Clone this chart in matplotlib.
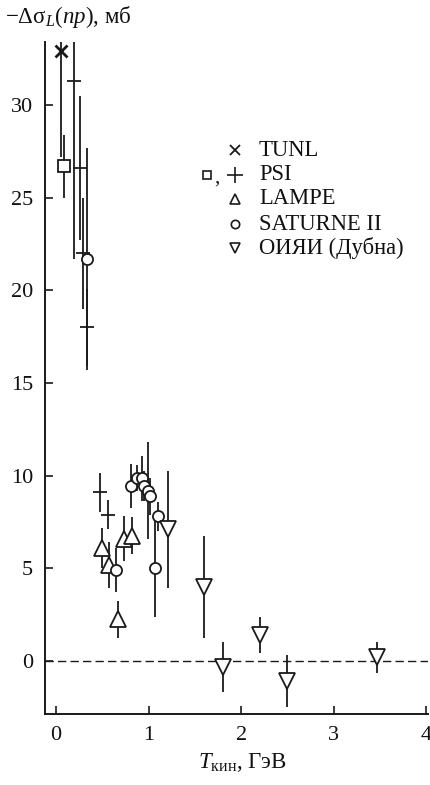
import matplotlib
matplotlib.use("Agg")
import matplotlib.pyplot as plt

plt.rcParams['font.family'] = ['Liberation Serif', 'DejaVu Serif']
plt.rcParams['mathtext.fontset'] = 'custom'
plt.rcParams['mathtext.rm'] = 'Liberation Serif'
plt.rcParams['mathtext.it'] = 'Liberation Serif:italic'

# TUNL (x)
tunl_x = [0.05]
tunl_y = [32.9]
tunl_e = [5.7]
# PSI squares
psi_sq_x = [0.08]
psi_sq_y = [26.7]
psi_sq_e = [1.7]
# PSI crosses
psi_cr_x = [0.19, 0.26, 0.29, 0.33, 0.47, 0.56]
psi_cr_y = [31.3, 26.6, 22.0, 18.0, 9.1, 7.9]
psi_cr_e = [9.6, 3.9, 3.0, 2.1, 1.05, 0.8]
# LAMPF triangles
lampf_x = [0.50, 0.57, 0.67, 0.73, 0.82]
lampf_y = [6.1, 5.2, 2.25, 6.6, 6.75]
lampf_e = [1.1, 1.25, 1.0, 1.2, 1.0]
# SATURNE II circles
sat_x = [0.33, 0.65, 0.81, 0.87, 0.93, 0.95, 0.99, 1.01, 1.07, 1.10]
sat_y = [21.7, 4.9, 9.45, 9.9, 9.85, 9.45, 9.2, 8.9, 5.0, 7.8]
sat_e = [6.0, 1.2, 1.2, 0.7, 1.2, 0.8, 2.6, 1.0, 2.6, 0.8]
# JINR (Dubna) inverted triangles
jinr_x = [1.21, 1.60, 1.80, 2.20, 2.50, 3.47]
jinr_y = [7.1, 4.0, -0.3, 1.4, -1.1, 0.2]
jinr_e = [3.15, 2.75, 1.35, 0.95, 1.4, 0.85]

legend_labels = ['TUNL', 'PSI', 'LAMPE', 'SATURNE II', 'ОИЯИ (Дубна)']

fig = plt.figure(figsize=(4.31, 7.85), dpi=100)
ax = fig.add_axes([0.1044, 0.0904, 0.889, 0.856])

ec = '#1a1a1a'
lw = 1.3

ax.axhline(0, color=ec, lw=1.0, ls=(0, (6, 3)), zorder=1)

ax.errorbar(tunl_x, tunl_y, yerr=tunl_e, fmt='x', ms=9, mew=2.0, color=ec, elinewidth=lw, zorder=3)
ax.errorbar(psi_cr_x, psi_cr_y, yerr=psi_cr_e, fmt='_', ms=10, mew=1.3, color=ec, elinewidth=lw, zorder=3)
ax.errorbar(psi_sq_x, psi_sq_y, yerr=psi_sq_e, fmt='s', ms=8, mfc='white', mec=ec, mew=1.3, color=ec, elinewidth=lw, zorder=4)
ax.errorbar(lampf_x, lampf_y, yerr=lampf_e, fmt='^', ms=11, mfc='white', mec=ec, mew=1.3, color=ec, elinewidth=lw, zorder=4)
ax.errorbar(sat_x, sat_y, yerr=sat_e, fmt='o', ms=8, mfc='white', mec=ec, mew=1.3, color=ec, elinewidth=lw, zorder=4)
ax.errorbar(jinr_x, jinr_y, yerr=jinr_e, fmt='v', ms=12, mfc='white', mec=ec, mew=1.3, color=ec, elinewidth=lw, zorder=4)

ax.set_xlim(-0.12, 4.02)
ax.set_ylim(-2.86, 33.4)
ax.set_xticks([0, 1, 2, 3, 4])
ax.set_yticks([0, 5, 10, 15, 20, 25, 30])
ax.tick_params(direction='in', length=6, width=1.2, labelsize=16, color=ec, labelcolor='#111111', pad=8.5)
ax.spines['top'].set_visible(False)
ax.spines['right'].set_visible(False)
for s in ('left', 'bottom'):
    ax.spines[s].set_linewidth(1.4)
    ax.spines[s].set_color(ec)

# manual legend
rows_y = [150, 175, 199, 224, 248]
H = 785.0
W = 431.0
mk_x = 235 / W
txt_x = 259 / W
def fy(py):
    return 1 - py / H
fig.add_artist(plt.Line2D([mk_x], [fy(rows_y[0])], marker='x', ms=7, mew=1.3, color=ec, transform=fig.transFigure))
fig.add_artist(plt.Line2D([207 / W], [fy(rows_y[1])], marker='s', ms=6, mfc='white', mew=1.2, mec=ec, color=ec, transform=fig.transFigure))
fig.text(217 / W, fy(rows_y[1]) - 0.004, ',', fontsize=15, ha='center', va='center', color=ec)
fig.add_artist(plt.Line2D([mk_x], [fy(rows_y[1])], marker='+', ms=11, mew=1.2, color=ec, transform=fig.transFigure))
fig.add_artist(plt.Line2D([mk_x], [fy(rows_y[2])], marker='^', ms=7, mfc='white', mew=1.2, mec=ec, color=ec, transform=fig.transFigure))
fig.add_artist(plt.Line2D([mk_x], [fy(rows_y[3])], marker='o', ms=6, mfc='white', mew=1.2, mec=ec, color=ec, transform=fig.transFigure))
fig.add_artist(plt.Line2D([mk_x], [fy(rows_y[4])], marker='v', ms=7, mfc='white', mew=1.2, mec=ec, color=ec, transform=fig.transFigure))
for lab, ry in zip(legend_labels, rows_y):
    fig.text(txt_x, fy(ry), lab, fontsize=16.3, ha='left', va='center', color='#111111')

fig.text(5 / W, fy(17), r'$-\Delta\mathrm{\sigma}_{L}(np)$, мб', fontsize=16.5, ha='left', va='center', color='#111111')
fig.text(242 / W, fy(762), r'$T_{\mathrm{кин}}$, ГэВ', fontsize=16.5, ha='center', va='center', color='#111111')

fig.savefig('out.png', dpi=100)
